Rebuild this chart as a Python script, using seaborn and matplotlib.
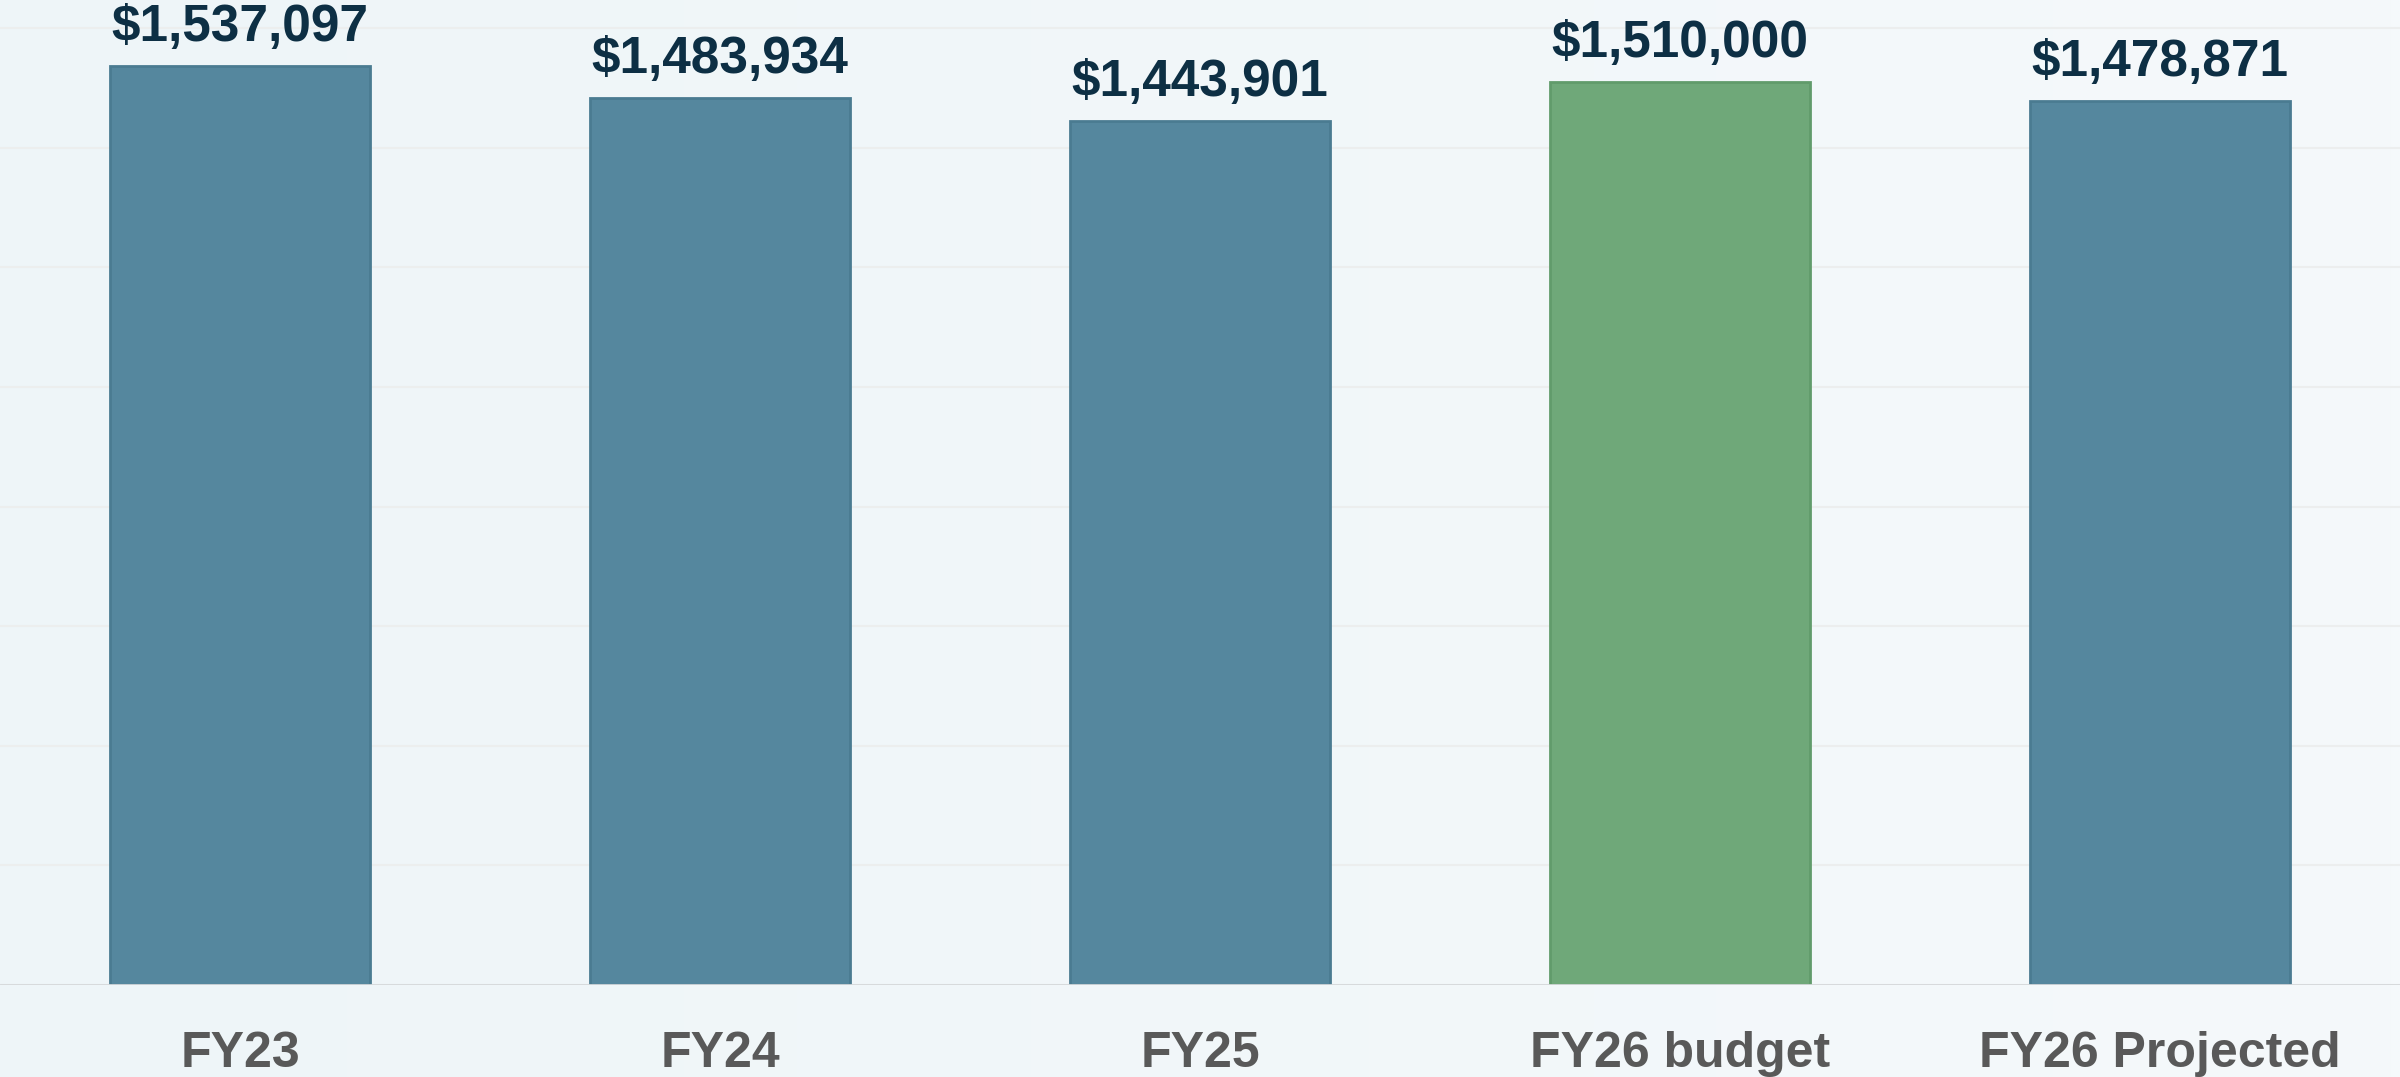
import matplotlib
matplotlib.use("Agg")
import matplotlib.pyplot as plt
import seaborn as sns
import numpy as np
import pandas as pd

# Chart data
categories = ["FY23", "FY24", "FY25", "FY26 budget", "FY26 Projected"]
values = [1537097, 1483934, 1443901, 1510000, 1478871]
bar_colors = ["#55879e", "#55879e", "#55879e", "#6fa879", "#55879e"]
edge_colors = ["#4a7b91", "#4a7b91", "#4a7b91", "#619b6b", "#4a7b91"]

sns.set_theme(style="white")
plt.rcParams["font.family"] = ["Liberation Sans", "DejaVu Sans"]

df = pd.DataFrame({"year": categories, "amount": values})

fig = plt.figure(figsize=(24, 10.77), dpi=100)

# soft left-to-right background gradient
bg = fig.add_axes([0, 0, 1, 1], zorder=-2)
grad = np.linspace(0, 1, 256).reshape(1, -1)
bg.imshow(grad, aspect="auto", extent=[0, 1, 0, 1],
          cmap=matplotlib.colors.LinearSegmentedColormap.from_list("bg", ["#eef5f8", "#f5f9fb"]))
bg.axis("off")

ax = fig.add_axes([0, 1 - 985 / 1077, 1, 985 / 1077])
ax.patch.set_alpha(0)

sns.barplot(data=df, x="year", y="amount", hue="year", palette=bar_colors,
            width=0.54, saturation=1, legend=False, ax=ax, zorder=3)
for patch, ec in zip(ax.patches, edge_colors):
    patch.set_edgecolor(ec)
    patch.set_linewidth(2)

ax.set_xlim(-0.5, len(categories) - 0.5)
ax.set_ylim(0, 1_647_000)
ax.set_yticks(np.arange(0, 1_700_000, 200_000))
ax.yaxis.grid(True, color="#eceeee", linewidth=1.5, zorder=0)
ax.set_yticklabels([])
ax.tick_params(axis="y", length=0)
ax.axhline(0, color="#d5d8da", linewidth=2, zorder=4)

for s in ax.spines.values():
    s.set_visible(False)

ax.set_xlabel("")
ax.set_ylabel("")
ax.tick_params(axis="x", length=0, pad=33)
for lbl in ax.get_xticklabels():
    lbl.set_fontsize(36)
    lbl.set_fontweight("bold")
    lbl.set_color("#595959")

for i, v in enumerate(values):
    ax.annotate(f"${v:,.0f}", xy=(i, v), xytext=(0, 18), textcoords="offset points",
                ha="center", va="baseline", fontsize=37, fontweight="bold",
                color="#0d2f44", zorder=5, annotation_clip=False)

fig.savefig("out.png", dpi=100)
